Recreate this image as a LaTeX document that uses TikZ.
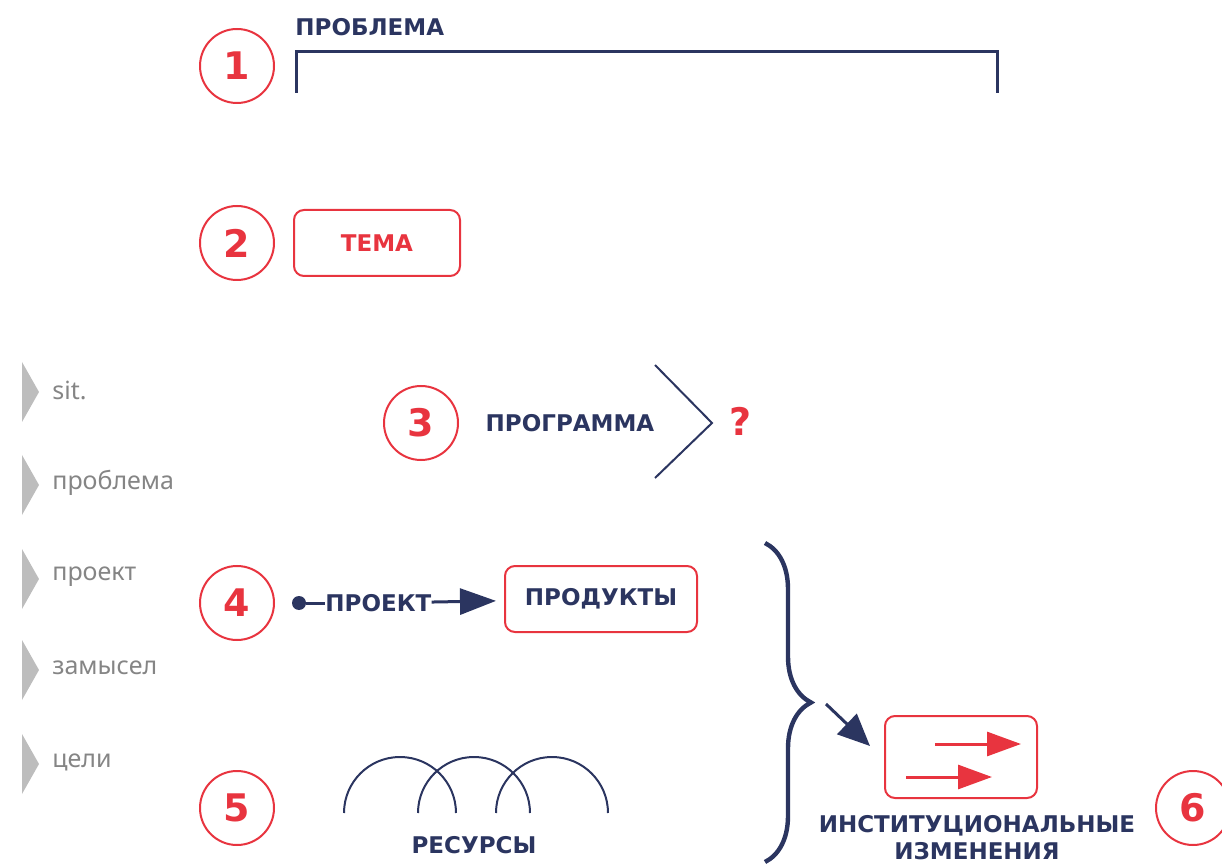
\documentclass[tikz,border=0pt]{standalone}
\usepackage{fontspec}
\setmainfont{DejaVu Sans}
\newfontfamily\sidefont{Noto Sans}
\usetikzlibrary{positioning, arrows.meta, decorations.pathreplacing}

\definecolor{navy}{HTML}{2B3560}
\definecolor{redline}{HTML}{E8343F}
\definecolor{greytext}{HTML}{858585}
\definecolor{greytri}{HTML}{BDBDBD}

\tikzset{
  num/.style={circle, draw=redline, line width=1pt, minimum size=37pt, inner sep=0pt,
    text=redline, font=\fontsize{19}{19}\selectfont\bfseries},
  title/.style={inner sep=0pt, text=navy, font=\fontsize{11.5}{14}\selectfont\bfseries},
  redbox/.style={draw=redline, line width=1pt, rounded corners=5pt},
  side/.style={inner sep=0pt, anchor=west, text=greytext, font=\sidefont\fontsize{12.5}{14}\selectfont},
  navyline/.style={navy, line width=1.5pt}
}

\begin{document}
\begin{tikzpicture}[x=0.5pt, y=-0.5pt]
    \useasboundingbox (0,0) rectangle (1222,866);

    % numbers
    \node (n1) [num] at (237,66) {1};
    \node (n2) [num] at (237,243) {2};
    \node (n3) [num] at (421,423) {3};
    \node (n4) [num] at (237,603) {4};
    \node (n5) [num] at (237,808) {5};
    \node (n6) [num] at (1193,808) {6};

    % side list
    \foreach \y/\word [count=\i] in {390/sit., 483/проблема, 577/проект, 668/замысел, 762/цели} {
        \fill [greytri] (22,\y-28) -- (39,\y+2) -- (22,\y+32) -- cycle;
        \node (side\i) [side] at (52,\y) {\word};
    }

    % 1
    \node (problem) [title, anchor=west] at (295,27) {ПРОБЛЕМА};
    \draw [navyline] (296,93) -- (296,52) -- (997,52) -- (997,93);

    % 2
    \node (topic) [redbox, title, text=redline, minimum width=83pt, minimum height=33pt]
        at (377,243) {ТЕМА};

    % 3
    \node (program) [title] at (570,423) {ПРОГРАММА};
    \draw [navy, line width=1pt] (655,365) -- (712,423) -- (655,478);
    \node (ask) [num, draw=none] at (741,421) {?};

    % 4
    \node (dot) [circle, fill=navy, minimum size=7pt, inner sep=0pt] at (299,603) {};
    \node (project) [title, anchor=west] at (325,603) {ПРОЕКТ};
    \node (products) [redbox, title, minimum width=96pt, minimum height=33pt] at (601,599) {ПРОДУКТЫ};
    \draw [navyline] (dot) -- (project);
    \draw [navyline, -{Triangle[length=18pt, width=13pt]}, shorten >=4pt] (project) -- (products);

    % 5
    \foreach \cx in {400,474,552}
        \draw [navy, line width=1pt] (\cx-56,813) arc [start angle=180, end angle=0, radius=28pt];
    \node (resources) [title] at (474,845) {РЕСУРСЫ};

    % brace and 6
    \coordinate (btop) at (765,543);
    \coordinate (bbot) at (765,862);
    \draw [navy, line width=2.2pt, decorate, decoration={brace, amplitude=23pt}] (btop) -- (bbot);
    \coordinate (bfrom) at (826,704);
    \coordinate (bto) at (870,746);
    \draw [navyline, -{Triangle[length=16pt, width=14pt]}] (bfrom) -- (bto);

    \node (change) [redbox, minimum width=76pt, minimum height=41pt] at (961,757) {};
    \draw [redline, line width=1.5pt, -{Triangle[length=17pt, width=12pt]}] (935,744) -- (1021,744);
    \draw [redline, line width=1.5pt, -{Triangle[length=17pt, width=12pt]}] (906,777) -- (992,777);
    \node (changetxt) [title, align=center, font=\fontsize{11.5}{13.5}\selectfont\bfseries]
        at (977,838) {ИНСТИТУЦИОНАЛЬНЫЕ\\ИЗМЕНЕНИЯ};

\end{tikzpicture}
\end{document}
